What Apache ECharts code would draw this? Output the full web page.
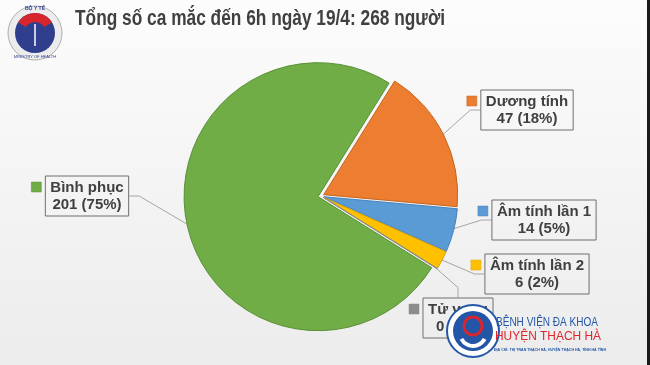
<!DOCTYPE html>
<html><head><meta charset="utf-8">
<script src="https://cdn.jsdelivr.net/npm/echarts@6/dist/echarts.min.js"></script>
<style>html,body{margin:0;padding:0;background:#f5f5f5;} #c{width:650px;height:365px;}</style>
</head><body><div id="c"></div>
<script>
// ---- data ----
const titleText = 'Tổng số ca mắc đến 6h ngày 19/4: 268 người';
const categories = ['Dương tính', 'Âm tính lần 1', 'Âm tính lần 2', 'Tử vong', 'Bình phục'];
const values = [47, 14, 6, 0, 201];

// ---- styles / layout ----
const colors = ['#ED7D31', '#5B9BD5', '#FFC000', '#A5A5A5', '#70AD47'];
const borderColors = ['#C4661F', '#4682BD', '#D9A200', '#8A8A8A', '#5A9036'];
const squareColors = ['#ED7D31', '#5B9BD5', '#FFC000', '#8C8C8C', '#70AD47'];
const labelCenters = [[527, 110], [544, 220], [537, 274], [458, 318], [87, 196]];
const FONT = '"Liberation Sans", Arial, sans-serif';
const LINE_H = 17, PAD_V = 3, PAD_H = 5;
const PIE_CENTER = [321, 196], PIE_R = 134, START = 58;

const total = values.reduce((a, b) => a + b, 0);
function pct(v) { return Math.round(v / total * 100) + '%'; }

const ctx = document.createElement('canvas').getContext('2d');
function textW(t, font) { ctx.font = font; return ctx.measureText(t).width; }

const chart = echarts.init(document.getElementById('c'), null, {renderer: 'canvas'});

const labelFont = 'bold 15px ' + FONT;
const squares = categories.map((name, i) => {
  const w = Math.max(textW(name, labelFont), textW(values[i] + ' (' + pct(values[i]) + ')', labelFont)) + 2 * PAD_H + 2;
  const h = 2 * LINE_H + 2 * PAD_V + 2;
  const c = labelCenters[i];
  return {
    type: 'rect', silent: true,
    shape: {x: c[0] - w / 2 - 13, y: c[1] - h / 2 + 7, width: 10, height: 10},
    style: {fill: squareColors[i], stroke: borderColors[i], lineWidth: 0.5}
  };
});

function fitText(text, font, x, y, width, fill, z) {
  const s = width / textW(text, font);
  return {type: 'text', silent: true, z: z, x: x, y: y, scaleX: s, originX: 0, originY: 0,
    style: {text: text, font: font, fill: fill, textVerticalAlign: 'middle', textAlign: 'left'}};
}

const graphics = [
  fitText(titleText, 'bold 22px ' + FONT, 75, 19, 370, '#404040', 10),
  // right frame edge
  {type: 'rect', silent: true, shape: {x: 647, y: 0, width: 3, height: 365}, style: {fill: '#1a1a1a'}},
  // top-left logo (Bộ Y tế)
  {type: 'circle', silent: true, shape: {cx: 35, cy: 33, r: 27}, style: {fill: '#ececec', stroke: '#b0b0b0', lineWidth: 1}},
  {type: 'circle', silent: true, shape: {cx: 35, cy: 33, r: 20}, style: {fill: '#2f3f8e'}},
  {type: 'sector', silent: true, shape: {cx: 35, cy: 33, r: 20, r0: 11, startAngle: Math.PI * 1.18, endAngle: Math.PI * 1.82}, style: {fill: '#d7262b'}},
  {type: 'line', silent: true, shape: {x1: 35, y1: 24, x2: 35, y2: 46}, style: {stroke: '#ffffff', lineWidth: 1.5}},
  {type: 'text', silent: true, x: 35, y: 9, style: {text: 'BỘ Y TẾ', font: 'bold 5px ' + FONT, fill: '#2f3f8e', textAlign: 'center', textVerticalAlign: 'middle'}},
  {type: 'text', silent: true, x: 35, y: 57, style: {text: 'MINISTRY OF HEALTH', font: '4px ' + FONT, fill: '#2f3f8e', textAlign: 'center', textVerticalAlign: 'middle'}},
  // bottom-right watermark logo
  {type: 'circle', silent: true, z: 100, shape: {cx: 473, cy: 331, r: 26}, style: {fill: '#ffffff', stroke: '#2356a6', lineWidth: 2}},
  {type: 'circle', silent: true, z: 100, shape: {cx: 473, cy: 331, r: 20}, style: {fill: '#2356a6'}},
  {type: 'circle', silent: true, z: 100, shape: {cx: 473, cy: 326, r: 9}, style: {fill: 'none', stroke: '#d8262e', lineWidth: 3}},
  {type: 'sector', silent: true, z: 100, shape: {cx: 473, cy: 333, r: 15, r0: 11, startAngle: Math.PI * 0.15, endAngle: Math.PI * 0.85}, style: {fill: '#ffffff'}},
  fitText('BỆNH VIỆN ĐA KHOA', '12px ' + FONT, 496, 323, 102, '#2356a6', 100),
  fitText('HUYỆN THẠCH HÀ', '13px ' + FONT, 495, 336, 106, '#e0262d', 100),
  fitText('ĐỊA CHỈ: THỊ TRẤN THẠCH HÀ, HUYỆN THẠCH HÀ, TỈNH HÀ TĨNH', 'bold 4px ' + FONT, 494, 350, 112, '#2356a6', 100)
].concat(squares);

const option = {
  animation: false,
  backgroundColor: {type: 'linear', x: 0, y: 0, x2: 0, y2: 1,
    colorStops: [{offset: 0, color: '#fcfcfc'}, {offset: 1, color: '#ececec'}]},
  graphic: graphics,
  series: [{
    // exploded slices
    type: 'pie',
    center: PIE_CENTER, radius: PIE_R, startAngle: START, clockwise: true,
    selectedMode: 'multiple', selectedOffset: 3,
    stillShowZeroSum: true, silent: true,
    emphasis: {disabled: true},
    label: {show: false}, labelLine: {show: false},
    data: categories.map((name, i) => ({
      name: name, value: values[i], selected: true,
      itemStyle: {color: colors[i], borderColor: borderColors[i], borderWidth: 1},
      select: {itemStyle: {color: colors[i], borderColor: borderColors[i], borderWidth: 1}}
    }))
  }, {
    // labels + leader lines
    type: 'pie',
    center: PIE_CENTER, radius: PIE_R, startAngle: START, clockwise: true,
    stillShowZeroSum: true, silent: true, avoidLabelOverlap: false,
    emphasis: {disabled: true},
    itemStyle: {color: 'rgba(0,0,0,0)', borderWidth: 0},
    label: {
      show: true, position: 'outside',
      formatter: p => p.name + '\n' + p.value + ' (' + pct(p.value) + ')',
      fontFamily: FONT, fontWeight: 'bold', fontSize: 15, color: '#404040',
      lineHeight: LINE_H, padding: [PAD_V, PAD_H],
      borderColor: '#6f6f6f', borderWidth: 1, align: 'center'
    },
    labelLine: {show: true, length: 10, length2: 10, lineStyle: {color: '#a6a6a6', width: 1}},
    labelLayout: function (params) {
      const c = labelCenters[params.dataIndex];
      return {x: c[0], y: c[1], align: 'center', verticalAlign: 'middle'};
    },
    data: categories.map((name, i) => ({name: name, value: values[i]}))
  }]
};
chart.setOption(option);
</script>
</body></html>
